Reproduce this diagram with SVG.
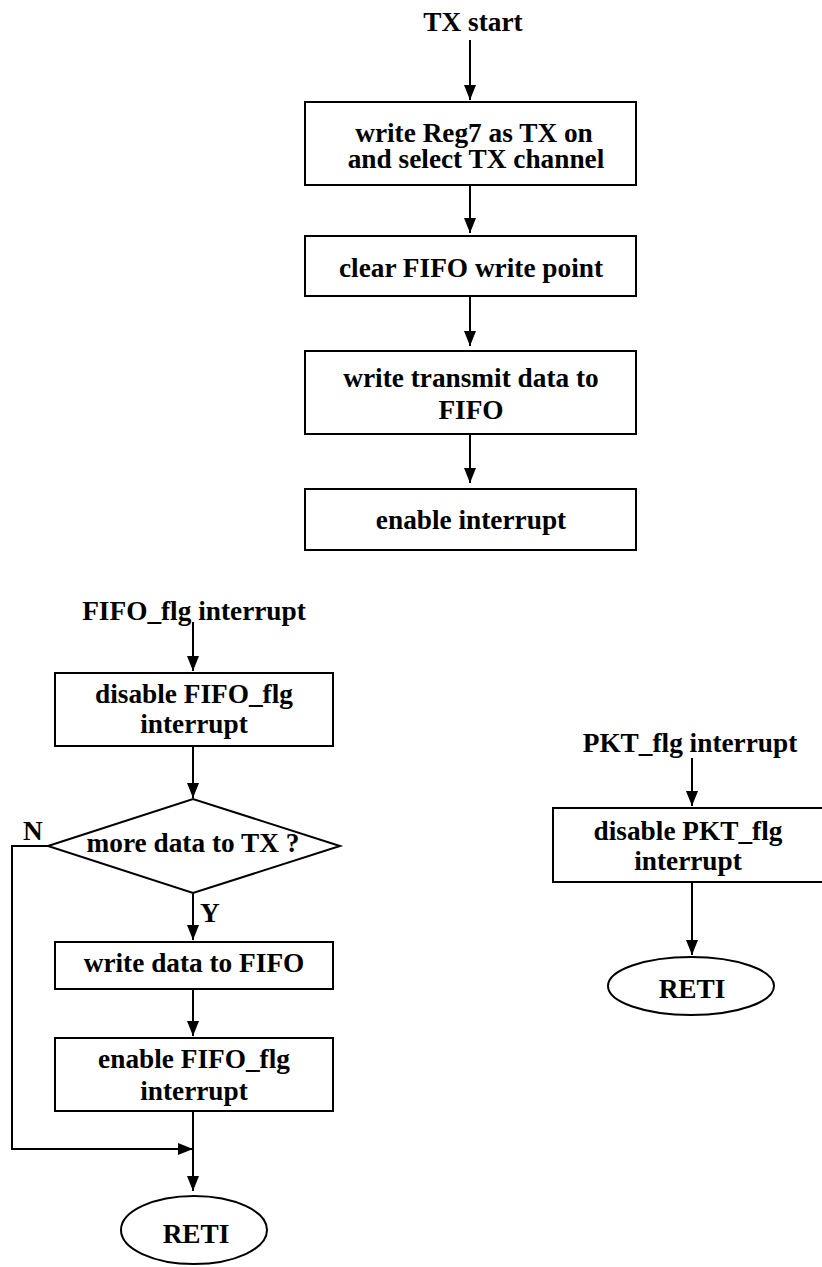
<svg xmlns="http://www.w3.org/2000/svg" width="822" height="1267" viewBox="0 0 822 1267">
  <style>
    .box { fill: #ffffff; stroke: #000000; stroke-width: 2; }
    .lbl { font-family: "Liberation Serif", "Times New Roman", serif; font-weight: bold; font-size: 27.3px; fill: #000000; text-anchor: middle; }
    .lbl-start { text-anchor: start; }
    .wire { fill: none; stroke: #000000; stroke-width: 2; }
  </style>
  <defs>
    <marker id="arrow" markerUnits="userSpaceOnUse" markerWidth="15" markerHeight="12" refX="15" refY="6" orient="auto">
      <path d="M0,0 L15,6 L0,12 z" fill="#000000"/>
    </marker>
  </defs>
  <rect width="822" height="1267" fill="#ffffff"/>

  <!-- connectors -->
  <g id="connectors">
    <!-- TX routine -->
    <line class="wire" x1="470" y1="40" x2="470" y2="100" marker-end="url(#arrow)"/>
    <line class="wire" x1="470" y1="185" x2="470" y2="233" marker-end="url(#arrow)"/>
    <line class="wire" x1="470" y1="296" x2="470" y2="346" marker-end="url(#arrow)"/>
    <line class="wire" x1="470" y1="434" x2="470" y2="483" marker-end="url(#arrow)"/>
    <!-- FIFO_flg interrupt routine -->
    <line class="wire" x1="193" y1="622" x2="193" y2="671" marker-end="url(#arrow)"/>
    <line class="wire" x1="193" y1="746" x2="193" y2="798" marker-end="url(#arrow)"/>
    <line class="wire" x1="193" y1="893" x2="193" y2="940" marker-end="url(#arrow)"/>
    <line class="wire" x1="193" y1="989" x2="193" y2="1036" marker-end="url(#arrow)"/>
    <line class="wire" x1="193" y1="1111" x2="193" y2="1191" marker-end="url(#arrow)"/>
    <polyline class="wire" points="48,846 12,846 12,1149 193,1149" marker-end="url(#arrow)"/>
    <!-- PKT_flg interrupt routine -->
    <line class="wire" x1="692" y1="758" x2="692" y2="806" marker-end="url(#arrow)"/>
    <line class="wire" x1="692" y1="882" x2="692" y2="955" marker-end="url(#arrow)"/>
  </g>

  <!-- TX routine -->
  <g id="tx-start">
    <text class="lbl" x="473" y="31">TX start</text>
  </g>
  <g id="write-reg7">
    <rect class="box" x="305" y="102" width="331" height="83"/>
    <text class="lbl" x="474" y="142">write Reg7 as TX on</text>
    <text class="lbl" x="476" y="168">and select TX channel</text>
  </g>
  <g id="clear-fifo">
    <rect class="box" x="305" y="236" width="331" height="60"/>
    <text class="lbl" x="471" y="277">clear FIFO write point</text>
  </g>
  <g id="write-tx-data">
    <rect class="box" x="305" y="351" width="331" height="83"/>
    <text class="lbl" x="471" y="387">write transmit data to</text>
    <text class="lbl" x="471" y="419">FIFO</text>
  </g>
  <g id="enable-int">
    <rect class="box" x="305" y="489" width="331" height="61"/>
    <text class="lbl" x="471" y="529">enable interrupt</text>
  </g>

  <!-- FIFO_flg interrupt routine -->
  <g id="fifo-int">
    <text class="lbl" x="194" y="620">FIFO_flg interrupt</text>
  </g>
  <g id="disable-fifo-int">
    <rect class="box" x="55" y="673" width="278" height="73"/>
    <text class="lbl" x="194" y="703">disable FIFO_flg</text>
    <text class="lbl" x="194" y="733">interrupt</text>
  </g>
  <g id="more-data">
    <polygon class="box" points="48,846 193,799 340,846 193,893"/>
    <text class="lbl" x="193" y="852">more data to TX ?</text>
    <text class="lbl lbl-start" x="23" y="840">N</text>
    <text class="lbl lbl-start" x="200" y="922">Y</text>
  </g>
  <g id="write-data">
    <rect class="box" x="55" y="942" width="278" height="47"/>
    <text class="lbl" x="194" y="972">write data to FIFO</text>
  </g>
  <g id="enable-fifo-int">
    <rect class="box" x="55" y="1038" width="278" height="73"/>
    <text class="lbl" x="194" y="1068">enable FIFO_flg</text>
    <text class="lbl" x="194" y="1100">interrupt</text>
  </g>
  <g id="reti-fifo">
    <ellipse class="box" cx="194" cy="1230" rx="73" ry="34"/>
    <text class="lbl" x="196" y="1243">RETI</text>
  </g>

  <!-- PKT_flg interrupt routine -->
  <g id="pkt-int">
    <text class="lbl" x="690" y="752">PKT_flg interrupt</text>
  </g>
  <g id="disable-pkt-int">
    <rect class="box" x="553" y="808" width="274" height="74"/>
    <text class="lbl" x="688" y="840">disable PKT_flg</text>
    <text class="lbl" x="688" y="870">interrupt</text>
  </g>
  <g id="reti-pkt">
    <ellipse class="box" cx="691" cy="986" rx="83" ry="29"/>
    <text class="lbl" x="692" y="998">RETI</text>
  </g>
</svg>
